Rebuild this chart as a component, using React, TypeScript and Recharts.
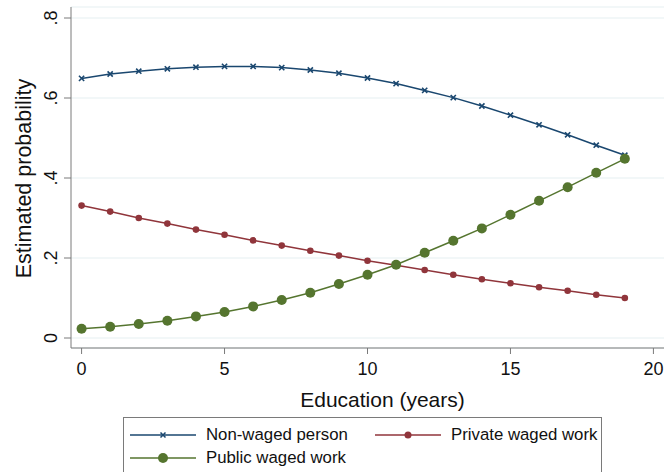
import React from 'react';
import { LineChart, Line, XAxis, YAxis, CartesianGrid, Legend } from 'recharts';

// Stata s2color palette
const COLORS = {
  nonWaged: '#1a476f',
  privateWaged: '#90353b',
  publicWaged: '#55752f',
  grid: '#e6eff1',
  axis: '#7a7a7a',
  text: '#111111'
};

const FONT = '"Liberation Sans", Arial, Helvetica, sans-serif';

const EDUCATION = [0, 1, 2, 3, 4, 5, 6, 7, 8, 9, 10, 11, 12, 13, 14, 15, 16, 17, 18, 19];
const NON_WAGED = [0.649, 0.66, 0.667, 0.673, 0.677, 0.679, 0.679, 0.676, 0.67, 0.662, 0.65, 0.636, 0.619, 0.601, 0.58, 0.557, 0.533, 0.508, 0.482, 0.457];
const PRIVATE_WAGED = [0.331, 0.316, 0.3, 0.286, 0.271, 0.258, 0.244, 0.231, 0.218, 0.206, 0.193, 0.182, 0.17, 0.158, 0.147, 0.137, 0.127, 0.118, 0.108, 0.1];
const PUBLIC_WAGED = [0.023, 0.028, 0.035, 0.043, 0.054, 0.065, 0.079, 0.095, 0.113, 0.135, 0.158, 0.183, 0.213, 0.243, 0.274, 0.308, 0.343, 0.377, 0.413, 0.448];

const X_TICKS = [0, 5, 10, 15, 20];
const Y_TICKS = [0, 0.2, 0.4, 0.6, 0.8];
const Y_TICK_LABELS = ['0', '.2', '.4', '.6', '.8'];

const SERIES = [
  { key: 'nonWaged', name: 'Non-waged person', color: COLORS.nonWaged, marker: 'x' },
  { key: 'privateWaged', name: 'Private waged work', color: COLORS.privateWaged, marker: 'small' },
  { key: 'publicWaged', name: 'Public waged work', color: COLORS.publicWaged, marker: 'big' }
];

const data = EDUCATION.map((edu, i) => ({
  edu,
  nonWaged: NON_WAGED[i],
  privateWaged: PRIVATE_WAGED[i],
  publicWaged: PUBLIC_WAGED[i]
}));

const XMark = (props: any) => {
  const { cx, cy, stroke } = props;
  if (cx == null || cy == null) return <g key={props.key} />;
  const s = 2.6;
  return (
    <path
      key={props.key}
      d={`M${cx - s},${cy - s}L${cx + s},${cy + s}M${cx - s},${cy + s}L${cx + s},${cy - s}`}
      stroke={stroke}
      strokeWidth={1.6}
      fill="none"
    />
  );
};

// rotated tick labels, Stata style
const YTick = (props: any) => {
  const { x, y, payload } = props;
  const idx = Y_TICKS.indexOf(payload.value);
  const label = idx >= 0 ? Y_TICK_LABELS[idx] : String(payload.value);
  const tx = x - 5;
  return (
    <text
      x={tx}
      y={y}
      transform={`rotate(-90, ${tx}, ${y})`}
      textAnchor="middle"
      fontSize={18}
      fontFamily={FONT}
      fill={COLORS.text}
    >
      {label}
    </text>
  );
};

const LegendIcon = ({ color, marker }: { color: string; marker: string }) => (
  <svg width={66} height={10} style={{ display: 'block' }}>
    <line x1={0} y1={5} x2={66} y2={5} stroke={color} strokeWidth={1.5} />
    {marker === 'x' && (
      <path d="M30.5,2.5L35.5,7.5M30.5,7.5L35.5,2.5" stroke={color} strokeWidth={1.5} />
    )}
    {marker === 'small' && <circle cx={33} cy={5} r={3.5} fill={color} />}
    {marker === 'big' && <circle cx={33} cy={5} r={5} fill={color} />}
  </svg>
);

const LegendBox = () => {
  const item = (s: typeof SERIES[number], left: number, top: number) => (
    <div key={s.key} style={{ position: 'absolute', left, top, display: 'flex', alignItems: 'center' }}>
      <LegendIcon color={s.color} marker={s.marker} />
      <span style={{ marginLeft: 10, fontSize: 16.8, fontFamily: FONT, color: COLORS.text, whiteSpace: 'nowrap' }}>
        {s.name}
      </span>
    </div>
  );
  return (
    <div
      style={{
        position: 'relative',
        marginLeft: 123,
        width: 479,
        height: 62,
        border: `1px solid ${COLORS.axis}`,
        boxSizing: 'border-box',
        background: '#fff'
      }}
    >
      {item(SERIES[0], 6, 7)}
      {item(SERIES[1], 251, 7)}
      {item(SERIES[2], 6, 30)}
    </div>
  );
};

export default function App() {
  return (
    <div style={{ position: 'absolute', left: 0, top: 0, width: 664, height: 472, overflow: 'hidden', background: '#fff' }}>
      <LineChart
        width={664}
        height={472}
        data={data}
        margin={{ top: 7, right: 0, left: 0, bottom: 0 }}
      >
        <CartesianGrid horizontal vertical={false} stroke={COLORS.grid} strokeWidth={1.2} />
        <XAxis
          dataKey="edu"
          type="number"
          domain={[-0.37, 20.37]}
          ticks={X_TICKS}
          allowDataOverflow
          height={69}
          tickSize={6}
          stroke={COLORS.axis}
          tick={{ fontSize: 18, fontFamily: FONT, fill: COLORS.text, dy: 6 }}
          label={{
            content: ({ viewBox }: any) => (
              <text
                x={viewBox.x + viewBox.width / 2 + 15}
                y={viewBox.y + 59}
                textAnchor="middle"
                fontSize={21}
                fontFamily={FONT}
                fill={COLORS.text}
              >
                Education (years)
              </text>
            )
          }}
        />
        <YAxis
          type="number"
          domain={[-0.025, 0.8275]}
          ticks={Y_TICKS}
          allowDataOverflow
          width={71}
          tickSize={7}
          stroke={COLORS.axis}
          tick={<YTick />}
          label={{
            content: ({ viewBox }: any) => {
              const cx = 24;
              const cy = viewBox.y + viewBox.height / 2 + 1;
              return (
                <text
                  x={cx}
                  y={cy}
                  transform={`rotate(-90, ${cx}, ${cy})`}
                  textAnchor="middle"
                  dominantBaseline="central"
                  fontSize={21.5}
                  fontFamily={FONT}
                  fill={COLORS.text}
                >
                  Estimated probability
                </text>
              );
            }
          }}
        />
        <Legend verticalAlign="bottom" height={55} content={() => <LegendBox />} />
        <Line
          dataKey="nonWaged"
          name="Non-waged person"
          stroke={COLORS.nonWaged}
          strokeWidth={1.5}
          dot={(p: any) => <XMark {...p} stroke={COLORS.nonWaged} />}
          isAnimationActive={false}
        />
        <Line
          dataKey="privateWaged"
          name="Private waged work"
          stroke={COLORS.privateWaged}
          strokeWidth={1.5}
          dot={{ r: 3.3, fill: COLORS.privateWaged, stroke: 'none' }}
          isAnimationActive={false}
        />
        <Line
          dataKey="publicWaged"
          name="Public waged work"
          stroke={COLORS.publicWaged}
          strokeWidth={1.5}
          dot={{ r: 5, fill: COLORS.publicWaged, stroke: 'none' }}
          isAnimationActive={false}
        />
      </LineChart>
    </div>
  );
}
